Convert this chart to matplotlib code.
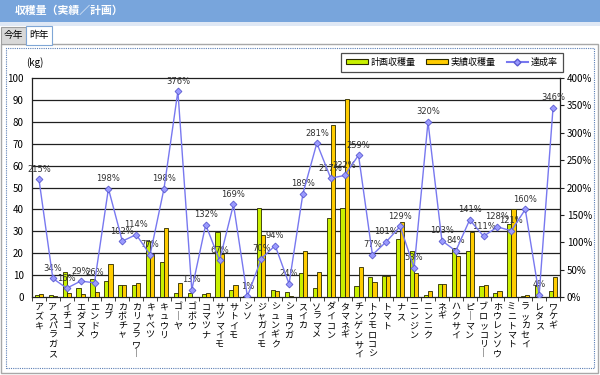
import matplotlib
matplotlib.use('Agg')
import matplotlib.pyplot as plt
import numpy as np
from matplotlib.patches import Rectangle, Patch
from matplotlib.lines import Line2D

plt.rcParams['font.family'] = ['Noto Sans CJK JP', 'DejaVu Sans']

TITLE = '収穫量（実績／計画）'
TABS = ['今年', '昨年']
CROPS = ['アズキ', 'アスパラガス', 'イチゴ', 'エダマメ', 'エンドウ', 'カブ', 'カボチャ',
         'カリフラワー', 'キャベツ', 'キュウリ', 'ゴーヤ', 'ゴボウ', 'コマツナ', 'サツマイモ',
         'サトイモ', 'シソ', 'ジャガイモ', 'シュンギク', 'ショウガ', 'スイカ', 'ソラマメ',
         'ダイコン', 'タマネギ', 'チンゲンサイ', 'トウモロコシ', 'トマト', 'ナス', 'ニンジン',
         'ニンニク', 'ネギ', 'ハクサイ', 'ピーマン', 'ブロッコリー', 'ホウレンソウ',
         'ミニトマト', 'ラッカセイ', 'レタス', 'ワケギ']
# kg
PLAN = [0.9, 0.9, 11.4, 4.3, 8.2, 7.5, 5.3, 5.5, 25.7, 16.0, 1.7, 1.8, 1.5, 29.5,
        3.3, 0.3, 40.6, 3.0, 2.5, 11.1, 4.0, 36.2, 40.8, 5.2, 9.0, 9.4, 26.6, 20.9,
        0.8, 5.9, 22.2, 21.2, 5.0, 2.0, 33.2, 0.5, 5.6, 2.6]
ACTUAL = [1.4, 0.3, 1.8, 1.2, 2.1, 15.0, 5.5, 6.5, 19.8, 31.4, 6.5, 0.2, 2.0, 19.8,
          5.6, 0.0, 28.4, 2.8, 0.6, 21.0, 11.2, 78.7, 90.6, 13.5, 6.9, 9.4, 34.3, 11.1,
          2.6, 6.1, 18.7, 29.9, 5.5, 2.6, 40.2, 0.8, 0.2, 9.0]
# %
RATE = [215, 34, 16, 29, 26, 198, 102, 114, 77, 198, 376, 13, 132, 67, 169, 1, 70,
        94, 24, 189, 281, 217, 222, 259, 77, 101, 129, 53, 320, 103, 84, 141, 111,
        128, 121, 160, 4, 346]
LEGEND = ['計画収穫量', '実績収穫量', '達成率']

W, H = 600, 375
GREEN = '#c8f000'
YELLOW = '#ffcc00'
LINE_C = '#7878f0'

fig = plt.figure(figsize=(W / 100, H / 100), dpi=100)
fig.patch.set_facecolor('white')

def px(x, y, w, h, **kw):
    # rectangle in pixel coords (top-left origin)
    r = Rectangle((x / W, 1 - (y + h) / H), w / W, h / H, transform=fig.transFigure, **kw)
    fig.add_artist(r)

# title bar + tabs + panel
px(0, 0, W, 22, facecolor='#78a5dc', edgecolor='none')
px(0, 22, W, 4, facecolor='#dfe8f5', edgecolor='none')
fig.text(15 / W, 1 - 11 / H, TITLE, color='white', fontsize=7.8, fontweight='bold', va='center')
px(1, 44, W - 3, H - 46, facecolor='white', edgecolor='#a8a8a8', linewidth=1)
px(1, 27, 25, 17, facecolor='#d8d8d8', edgecolor='#a0a0a0', linewidth=0.8)
px(26, 26, 26, 19, facecolor='white', edgecolor='#7fa6d6', linewidth=0.8)
fig.text(13 / W, 1 - 35 / H, TABS[0], fontsize=7, ha='center', va='center')
fig.text(39 / W, 1 - 35 / H, TABS[1], fontsize=7, ha='center', va='center')
px(6, 48, W - 12, H - 55, facecolor='none', edgecolor='#5b7fb5', linewidth=0.8,
   linestyle=(0, (1, 1)))

# plot area
ax = fig.add_axes([32 / W, 1 - 297 / H, 528 / W, 219 / H])
ax.set_zorder(2)
x = np.arange(len(CROPS))
bw = 0.3
ax.bar(x - bw / 2, PLAN, bw, color=GREEN, edgecolor='#2a2a00', linewidth=0.6, zorder=3)
ax.bar(x + bw / 2, ACTUAL, bw, color=YELLOW, edgecolor='#2a2a00', linewidth=0.6, zorder=3)
ax.set_xlim(-0.5, len(CROPS) - 0.5)
ax.set_ylim(0, 100)
ax.set_yticks(np.arange(0, 101, 10))
for v in range(10, 100, 10):
    ax.axhline(v, color='#202020', linewidth=0.9, zorder=1)
for s in ax.spines.values():
    s.set_color('#202020')
    s.set_linewidth(0.9)
ax.tick_params(axis='y', length=0, labelsize=7, pad=6)
ax.set_xticks(x)
ax.set_xticklabels(['\n'.join(n.replace('ー', '｜')) for n in CROPS], fontsize=6.5,
                   linespacing=1.05, va='top')
ax.tick_params(axis='x', length=0, pad=4)
ax.set_xticks(np.arange(-0.5, len(CROPS), 1), minor=True)
ax.tick_params(axis='x', which='minor', length=3, direction='out', color='#202020')
fig.text(26 / W, 1 - 63 / H, '(kg)', fontsize=7, va='center')

ax2 = ax.twinx()
ax2.set_ylim(0, 400)
ax2.set_yticks(np.arange(0, 401, 50))
ax2.set_yticklabels([f'{v}%' for v in range(0, 401, 50)])
ax2.tick_params(axis='y', labelsize=7, length=3, direction='out', color='#202020', pad=2)
for s in ax2.spines.values():
    s.set_visible(False)
ax2.plot(x, RATE, color=LINE_C, linewidth=1, marker='D', markersize=3.5,
         markerfacecolor='#9a9aff', markeredgecolor='#5a5ad0', markeredgewidth=0.6, zorder=4)
for xi, r in zip(x, RATE):
    ax2.annotate(f'{r}%', (xi, r), xytext=(0, 4), textcoords='offset points',
                 ha='center', va='bottom', fontsize=6, color='#303030',
                 family=['DejaVu Sans'])

handles = [Patch(facecolor=GREEN, edgecolor='#2a2a00', linewidth=0.8),
           Patch(facecolor=YELLOW, edgecolor='#2a2a00', linewidth=0.8),
           Line2D([], [], color=LINE_C, marker='D', markersize=3.5,
                  markerfacecolor='#9a9aff', markeredgecolor='#5a5ad0')]
leg = fig.legend(handles, LEGEND, ncol=3, loc='upper right',
                 bbox_to_anchor=(563 / W, 1 - 53 / H), fontsize=6.5, frameon=True,
                 fancybox=False, handlelength=2.4, handleheight=0.5, columnspacing=1.2,
                 handletextpad=0.3, borderpad=0.55, borderaxespad=0)
leg.get_frame().set_edgecolor('#202020')
leg.get_frame().set_linewidth(0.9)

fig.savefig('out.png', dpi=100)
